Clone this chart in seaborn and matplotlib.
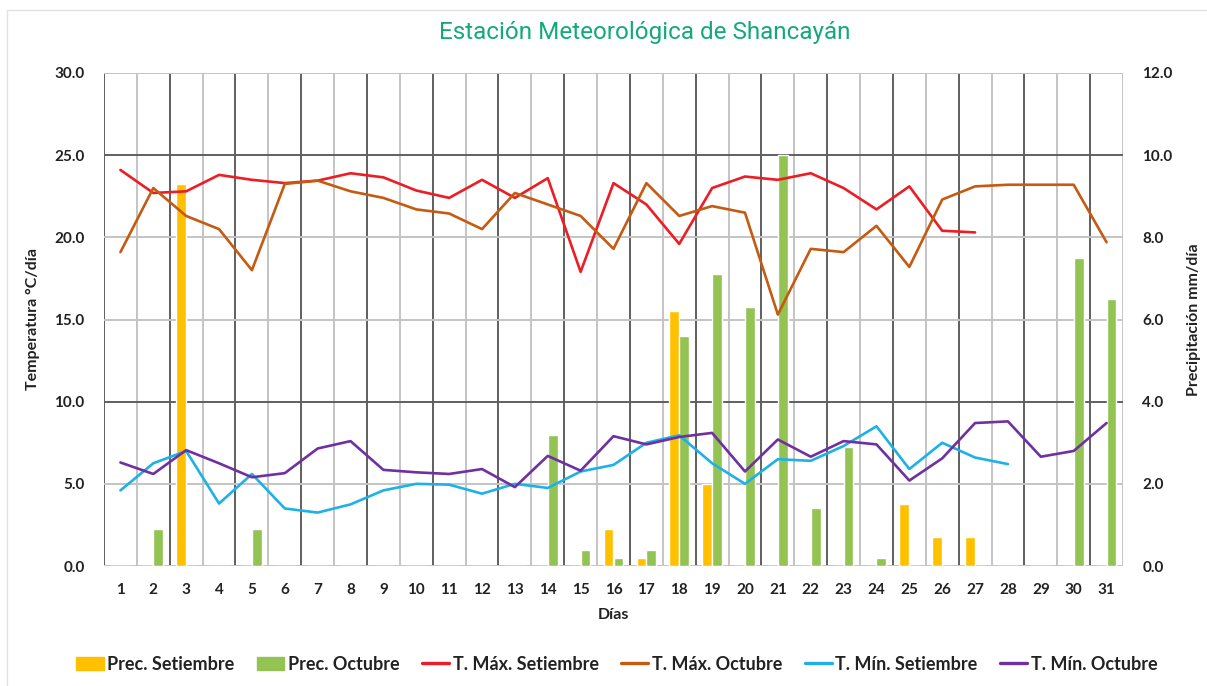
import numpy as np
import pandas as pd
import seaborn as sns
import matplotlib.pyplot as plt
from matplotlib.lines import Line2D
from matplotlib.patches import Patch

nan = np.nan
dias = list(range(1, 32))

# temperaturas (°C/día)
tmax_set = [24.1, 22.7, 22.8, 23.8, 23.5, 23.3, 23.45, 23.9, 23.65, 22.85,
            22.4, 23.5, 22.4, 23.6, 17.9, 23.3, 22.0, 19.6, 23.0, 23.7,
            23.5, 23.9, 23.0, 21.7, 23.1, 20.4, 20.3, nan, nan, nan, nan]
tmax_oct = [19.1, 23.0, 21.3, 20.5, 18.0, 23.25, 23.45, 22.8, 22.4, 21.7,
            21.45, 20.5, 22.7, 22.0, 21.3, 19.3, 23.3, 21.3, 21.9, 21.5,
            15.3, 19.3, 19.1, 20.7, 18.2, 22.3, 23.1, 23.2, 23.2, 23.2, 19.7]
tmin_set = [4.6, 6.25, 7.0, 3.8, 5.6, 3.5, 3.25, 3.75, 4.6, 5.0,
            4.95, 4.4, 5.0, 4.75, 5.75, 6.15, 7.5, 7.95, 6.25, 5.0,
            6.5, 6.4, 7.3, 8.5, 5.9, 7.5, 6.6, 6.2, nan, nan, nan]
tmin_oct = [6.3, 5.6, 7.05, 6.25, 5.4, 5.65, 7.15, 7.6, 5.85, 5.7,
            5.6, 5.9, 4.8, 6.7, 5.8, 7.9, 7.4, 7.85, 8.1, 5.75,
            7.7, 6.65, 7.6, 7.4, 5.2, 6.55, 8.7, 8.8, 6.65, 7.0, 8.7]

# precipitación (mm/día)
prec_set = [0, 0, 9.3, 0, 0, 0, 0, 0, 0, 0,
            0, 0, 0, 0, 0, 0.9, 0.2, 6.2, 2.0, 0,
            0, 0, 0, 0, 1.5, 0.7, 0.7, 0, 0, 0, 0]
prec_oct = [0, 0.9, 0, 0, 0.9, 0, 0, 0, 0, 0,
            0, 0, 0, 3.2, 0.4, 0.2, 0.4, 5.6, 7.1, 6.3,
            10.0, 1.4, 2.9, 0.2, 0, 0, 0, 0, 0, 7.5, 6.5]

c_prec_set = "#FFC000"
c_prec_oct = "#92C353"
c_tmax_set = "#EE1C25"
c_tmax_oct = "#C55A11"
c_tmin_set = "#1EB1E8"
c_tmin_oct = "#7030A0"
txt = "#222222"
dark = "#5f5f5f"
light = "#c4c4c4"

sns.set_style("white")
plt.rcParams['font.family'] = ['Lato', 'DejaVu Sans']
plt.rcParams['font.weight'] = 'bold'

fig = plt.figure(figsize=(12.07, 6.86), dpi=100)
ax = fig.add_axes([104 / 1207, 120 / 686, 1019 / 1207, 493 / 686])

prec_df = pd.DataFrame({
    "Día": dias * 2,
    "Prec": prec_set + prec_oct,
    "Mes": ["Prec. Setiembre"] * 31 + ["Prec. Octubre"] * 31,
})
sns.barplot(data=prec_df, x="Día", y="Prec", hue="Mes",
            palette=[c_prec_set, c_prec_oct], saturation=1, width=0.6,
            ax=ax, legend=False, zorder=3)

# rejilla
for i in range(32):
    ax.axvline(i - 0.5, color=dark if i % 2 == 0 else light, lw=1.4, zorder=1)
for v in range(0, 13, 2):
    ax.axhline(v, color=dark if v in (4, 10) else light, lw=1.4, zorder=1)

ax2 = ax.twinx()
x = np.arange(31)
series = [(tmax_set, c_tmax_set), (tmax_oct, c_tmax_oct),
          (tmin_set, c_tmin_set), (tmin_oct, c_tmin_oct)]
for vals, col in series:
    sns.lineplot(x=x, y=vals, color=col, lw=1.9, ax=ax2)

ax.yaxis.tick_right()
ax.yaxis.set_label_position('right')
ax2.yaxis.tick_left()
ax2.yaxis.set_label_position('left')

ax.set_xlim(-0.5, 30.5)
ax2.set_xlim(-0.5, 30.5)
ax.set_ylim(0, 12)
ax2.set_ylim(0, 30)
ax.set_yticks(np.arange(0, 13, 2))
ax.set_yticklabels([f"{v:.1f}" for v in np.arange(0, 13, 2)])
ax2.set_yticks(np.arange(0, 31, 5))
ax2.set_yticklabels([f"{v:.1f}" for v in np.arange(0, 31, 5)])

for a in (ax, ax2):
    for s in a.spines.values():
        s.set_visible(False)
    a.tick_params(length=0, labelsize=11, labelcolor=txt)
ax.tick_params(axis='x', pad=12)
ax.tick_params(axis='y', pad=14)
ax2.tick_params(axis='y', pad=14)

ax.set_xlabel("Días", fontsize=11.5, color=txt, fontweight='bold', labelpad=8)
ax.set_ylabel("Precipitación mm/día", fontsize=11.5, color=txt,
              fontweight='bold', labelpad=10)
ax2.set_ylabel("Temperatura °C/día", fontsize=11.5, color=txt,
               fontweight='bold', labelpad=10)

fig.text(645 / 1207, 1 - 33 / 686, "Estación Meteorológica de Shancayán",
         color="#14A97B", fontsize=17.5, fontweight='normal',
         family=['Roboto', 'DejaVu Sans'], ha='center', va='center')

handles = [Patch(color=c_prec_set), Patch(color=c_prec_oct),
           Line2D([], [], color=c_tmax_set, lw=2.4),
           Line2D([], [], color=c_tmax_oct, lw=2.4),
           Line2D([], [], color=c_tmin_set, lw=2.4),
           Line2D([], [], color=c_tmin_oct, lw=2.4)]
labels = ["Prec. Setiembre", "Prec. Octubre", "T. Máx. Setiembre",
          "T. Máx. Octubre", "T. Mín. Setiembre", "T. Mín. Octubre"]
fig.legend(handles, labels, loc='center', bbox_to_anchor=(617 / 1207, 22 / 686),
           ncol=6, frameon=False, fontsize=13, handlelength=1.5,
           handletextpad=0.2, columnspacing=1.25, labelcolor=txt)

# marco exterior
fig.add_artist(Line2D([7 / 1207, 7 / 1207], [0, 1 - 10 / 686],
                      transform=fig.transFigure, color="#e2e2e2", lw=1))
fig.add_artist(Line2D([7 / 1207, 1], [1 - 10 / 686, 1 - 10 / 686],
                      transform=fig.transFigure, color="#e2e2e2", lw=1))

fig.savefig("out.png", dpi=100)
